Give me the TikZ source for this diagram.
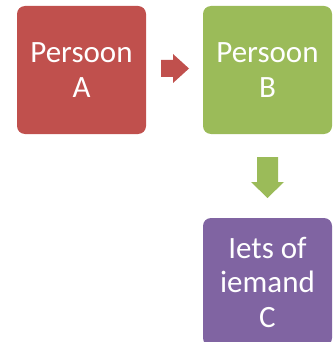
\documentclass[tikz,border=0pt]{standalone}
\usepackage{fontspec}
\setmainfont{Carlito}
\definecolor{cred}{HTML}{C0504D}
\definecolor{cgreen}{HTML}{9BBB59}
\definecolor{cpurple}{HTML}{8064A2}
\begin{document}
\begin{tikzpicture}[x=1pt,y=-1pt,
  box/.style={minimum width=129pt,minimum height=128pt,rounded corners=8pt,
    text=white,align=center,inner sep=0pt,
    font=\fontsize{31}{34.5}\selectfont},
  blockarrow/.style={draw=none}]
\useasboundingbox (0,0) rectangle (334,342);
\node[box,fill=cred] (a) at (81.5,70) {Persoon\\A};
\node[box,fill=cgreen] (b) at (267.5,70) {Persoon\\B};
\begin{scope}
\clip (0,0) rectangle (334,342);
\node[box,fill=cpurple] (c) at (267.5,282) {Iets of\\iemand\\C};
\end{scope}
\fill[cred] (161,60) -- (173,60) -- (173,54) -- (189,68.5) -- (173,83) -- (173,77) -- (161,77) -- cycle;
\fill[cgreen] (257,157) -- (278,157) -- (278,182) -- (284,182) -- (267.5,198) -- (251,182) -- (257,182) -- cycle;
\end{tikzpicture}
\end{document}
